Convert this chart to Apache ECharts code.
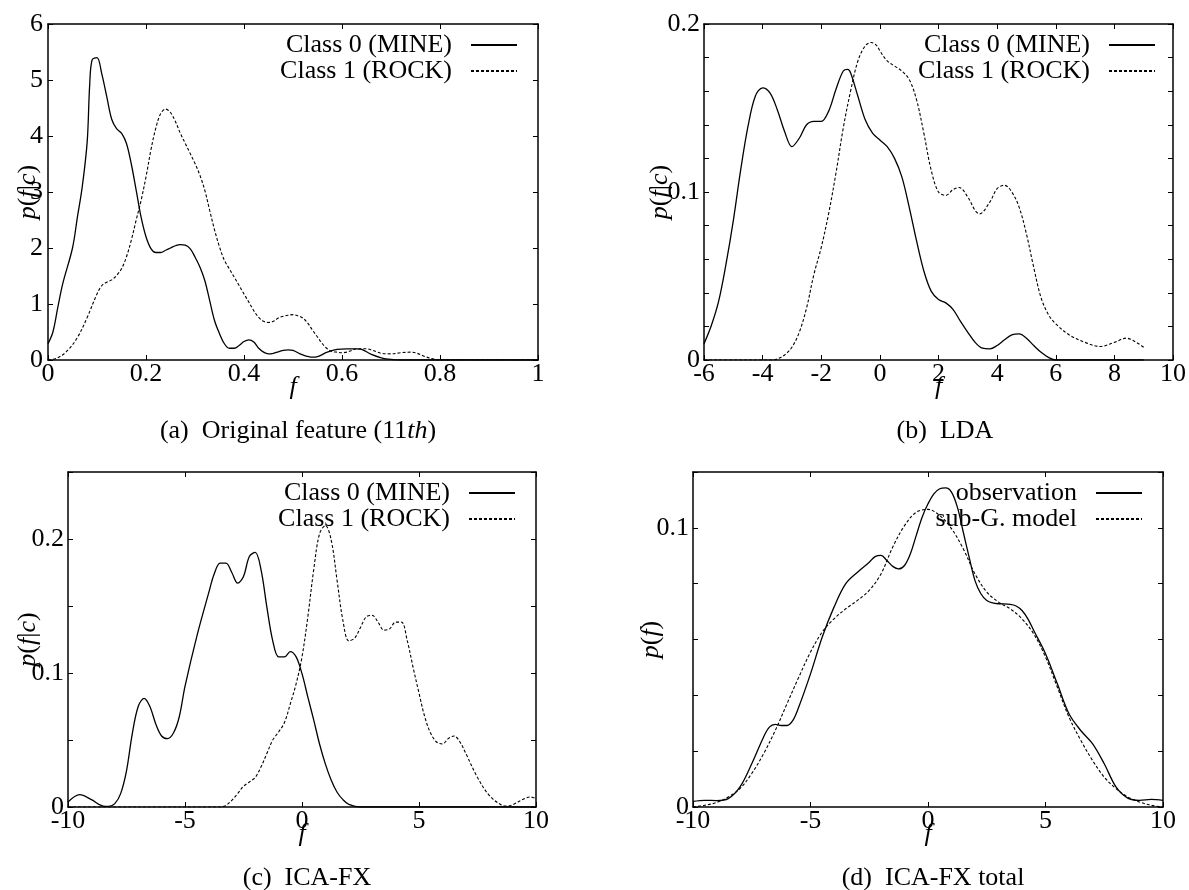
<!DOCTYPE html>
<html>
<head>
<meta charset="utf-8">
<script src="https://cdn.jsdelivr.net/npm/echarts@6/dist/echarts.min.js"></script>
<style>html,body{margin:0;padding:0;background:#fff}#c{width:1189px;height:890px}</style>
</head>
<body>
<div id="c"></div>
<script>
// ---------- Panel (a): Original feature (11th) ----------
const A_MINE_X = [0,0.01,0.02,0.03,0.05,0.06,0.07,0.08,0.085,0.09,0.1,0.11,0.12,0.13,0.14,0.15,0.16,0.17,0.18,0.19,0.2,0.21,0.22,0.23,0.24,0.25,0.26,0.27,0.28,0.29,0.3,0.31,0.32,0.33,0.34,0.35,0.36,0.37,0.38,0.39,0.4,0.41,0.42,0.43,0.44,0.45,0.46,0.48,0.49,0.5,0.52,0.54,0.55,0.57,0.59,0.61,0.63,0.64,0.66,0.68,0.7,0.72,0.8,0.9,1.0];
const A_MINE_Y = [0.29,0.5,0.94,1.36,2.0,2.55,3.1,3.9,4.9,5.36,5.4,5.1,4.7,4.3,4.13,4.05,3.87,3.5,3.03,2.55,2.2,1.99,1.92,1.92,1.96,2.0,2.04,2.06,2.05,1.99,1.84,1.66,1.42,1.06,0.7,0.47,0.29,0.21,0.21,0.26,0.33,0.36,0.32,0.21,0.14,0.11,0.12,0.17,0.18,0.17,0.09,0.05,0.06,0.14,0.19,0.2,0.2,0.19,0.1,0.04,0.01,0,0,0,0];
const A_ROCK_X = [0,0.02,0.04,0.06,0.08,0.1,0.11,0.12,0.13,0.14,0.15,0.16,0.17,0.18,0.19,0.2,0.21,0.22,0.23,0.24,0.25,0.26,0.27,0.28,0.29,0.3,0.31,0.32,0.33,0.34,0.35,0.36,0.37,0.38,0.39,0.4,0.41,0.42,0.43,0.44,0.45,0.46,0.47,0.48,0.49,0.5,0.51,0.52,0.53,0.54,0.55,0.56,0.57,0.58,0.59,0.6,0.61,0.62,0.63,0.64,0.65,0.66,0.67,0.68,0.7,0.72,0.74,0.75,0.77,0.79,0.8,0.9,1.0];
const A_ROCK_Y = [0,0.04,0.17,0.4,0.76,1.18,1.33,1.39,1.43,1.51,1.63,1.84,2.14,2.5,2.85,3.27,3.75,4.14,4.4,4.48,4.42,4.26,4.05,3.87,3.69,3.51,3.3,3.03,2.67,2.32,2.02,1.78,1.63,1.48,1.33,1.18,1.03,0.88,0.76,0.69,0.67,0.69,0.75,0.78,0.8,0.81,0.79,0.75,0.66,0.53,0.41,0.29,0.2,0.15,0.14,0.13,0.14,0.17,0.2,0.2,0.2,0.18,0.15,0.12,0.11,0.13,0.14,0.13,0.06,0.01,0,0,0];

// ---------- Panel (b): LDA ----------
const B_MINE_X = [-6,-5.75,-5.5,-5.25,-5,-4.75,-4.5,-4.25,-4,-3.75,-3.5,-3.25,-3,-2.75,-2.5,-2.25,-2,-1.75,-1.5,-1.25,-1.1,-1,-0.75,-0.5,-0.25,0,0.25,0.5,0.75,1,1.25,1.5,1.75,2,2.25,2.5,2.75,3,3.25,3.5,3.75,4,4.25,4.5,4.75,5,5.25,5.5,5.75,6,7,8,9];
const B_MINE_Y = [0.0096,0.0205,0.035,0.057,0.083,0.113,0.139,0.157,0.162,0.159,0.149,0.136,0.127,0.132,0.14,0.142,0.142,0.148,0.161,0.172,0.173,0.171,0.157,0.143,0.135,0.131,0.127,0.12,0.109,0.091,0.071,0.053,0.041,0.036,0.034,0.030,0.023,0.0165,0.0105,0.007,0.0066,0.0086,0.012,0.015,0.0155,0.013,0.0086,0.0046,0.0016,0,0,0,0];
const B_ROCK_X = [-6,-5,-4,-3.7,-3.5,-3.25,-3,-2.75,-2.5,-2.25,-2,-1.75,-1.5,-1.25,-1,-0.75,-0.5,-0.3,-0.1,0,0.25,0.5,0.75,1,1.25,1.5,1.75,2,2.25,2.5,2.7,3,3.25,3.4,3.75,4,4.25,4.5,4.75,5,5.25,5.5,5.75,6,6.5,7,7.5,8,8.4,8.75,9];
const B_ROCK_Y = [0,0,0,0,0.0006,0.003,0.0076,0.0165,0.031,0.051,0.067,0.087,0.111,0.138,0.16,0.178,0.187,0.189,0.187,0.184,0.178,0.175,0.172,0.167,0.155,0.135,0.113,0.1,0.098,0.1015,0.1027,0.097,0.089,0.087,0.094,0.102,0.104,0.1,0.091,0.075,0.055,0.037,0.027,0.0215,0.0145,0.0105,0.008,0.0105,0.013,0.0105,0.0076];

// ---------- Panel (c): ICA-FX ----------
const C_MINE_X = [-10,-9.5,-9,-8.5,-8.25,-8,-7.75,-7.5,-7.25,-7,-6.75,-6.5,-6.25,-6,-5.75,-5.5,-5.25,-5,-4.5,-4,-3.75,-3.5,-3.25,-3,-2.75,-2.5,-2.25,-2,-1.75,-1.5,-1.25,-1,-0.75,-0.5,-0.25,0,0.25,0.5,0.75,1,1.25,1.5,1.75,2,2.5,4,6,8,10];
const C_MINE_Y = [0.0037,0.0092,0.0055,0.0007,0.0005,0.0025,0.01,0.027,0.055,0.075,0.081,0.075,0.062,0.053,0.051,0.055,0.067,0.09,0.127,0.159,0.174,0.182,0.182,0.175,0.167,0.172,0.187,0.19,0.177,0.149,0.124,0.112,0.112,0.116,0.112,0.0995,0.082,0.065,0.047,0.032,0.02,0.011,0.0055,0.002,0,0,0,0,0];
const C_ROCK_X = [-10,-8,-6,-4,-3.5,-3.25,-3,-2.75,-2.5,-2.25,-2,-1.75,-1.5,-1.25,-1,-0.75,-0.5,-0.25,0,0.25,0.5,0.75,1,1.25,1.5,1.75,2,2.25,2.5,2.75,3,3.25,3.5,3.75,4,4.25,4.5,4.75,5,5.25,5.5,5.75,6,6.25,6.5,6.75,7,7.5,8,8.5,8.75,9,9.5,9.75,10];
const C_ROCK_Y = [0,0,0,0,0,0.0012,0.005,0.01,0.0155,0.0187,0.022,0.03,0.04,0.05,0.056,0.063,0.077,0.092,0.112,0.142,0.177,0.204,0.21,0.199,0.169,0.139,0.124,0.126,0.134,0.142,0.143,0.138,0.132,0.133,0.138,0.138,0.124,0.104,0.085,0.067,0.055,0.0485,0.047,0.051,0.053,0.0485,0.04,0.022,0.0087,0.0017,0.0007,0.0017,0.0062,0.0075,0.0062];

// ---------- Panel (d): ICA-FX total ----------
const D_OBS_X = [-10,-9.5,-9,-8.5,-8,-7.5,-7,-6.75,-6.5,-6.25,-6,-5.75,-5.5,-5,-4.5,-4,-3.5,-3,-2.5,-2.25,-2,-1.75,-1.5,-1.25,-1,-0.75,-0.5,-0.25,0,0.25,0.5,0.75,1,1.25,1.5,1.75,2,2.25,2.5,2.75,3,3.5,3.75,4,4.25,4.5,5,5.5,6,6.5,7,7.5,8,8.5,9,9.5,10];
const D_OBS_Y = [0.002,0.0024,0.0023,0.003,0.0072,0.0155,0.025,0.0286,0.0296,0.0292,0.0292,0.031,0.0358,0.0477,0.0609,0.0716,0.08,0.0841,0.0877,0.0897,0.0901,0.0883,0.0862,0.0853,0.0865,0.0907,0.0973,0.1038,0.1086,0.1122,0.114,0.1143,0.1128,0.1074,0.0985,0.0895,0.0811,0.0764,0.074,0.0731,0.0728,0.0726,0.072,0.0704,0.0674,0.0632,0.0549,0.0442,0.0334,0.0274,0.0227,0.0155,0.0072,0.0032,0.0024,0.0027,0.0024];
const D_MODEL_X = [-10,-9.5,-9,-8.5,-8,-7.5,-7,-6.5,-6,-5.5,-5,-4.5,-4,-3.5,-3,-2.5,-2,-1.5,-1,-0.5,0,0.5,1,1.5,2,2.5,3,3.5,4,4.5,5,5.5,6,6.5,7,7.5,8,8.5,9,9.5,10];
const D_MODEL_Y = [0,0.0006,0.0016,0.0036,0.0066,0.012,0.019,0.0274,0.037,0.0465,0.0555,0.0627,0.0674,0.071,0.074,0.0776,0.0835,0.0931,0.1008,0.1056,0.1066,0.1044,0.0997,0.0925,0.0835,0.077,0.0734,0.071,0.0674,0.062,0.0537,0.043,0.0322,0.0239,0.0167,0.0107,0.0066,0.0036,0.0018,0.0006,0];

// ---------- labels ----------
const NAME_MINE = 'Class 0 (MINE)';
const NAME_ROCK = 'Class 1 (ROCK)';
const NAME_OBS = 'observation';
const NAME_MODEL = 'sub-G. model';
const CAPTIONS = ['{n|(a)  Original feature (11}{i|th}{n|)}', '{n|(b)  LDA}', '{n|(c)  ICA-FX}', '{n|(d)  ICA-FX total}'];
const Y_NAMES = ['{i|p}({i|f}|{i|c})', '{i|p}({i|f}|{i|c})', '{i|p}({i|f}|{i|c})', '{i|p}({i|f})'];
const X_NAME = '{i|f}';

const FONT = 'Liberation Serif';
const FS = 26;

const panels = [
  {grid:{left:48, top:24, width:490, height:336}, x:[0,1,0.2], y:[0,6,1], yLabels:null, yGap:7, yMargin:5,
   series:[[NAME_MINE, A_MINE_X, A_MINE_Y, 'solid'], [NAME_ROCK, A_ROCK_X, A_ROCK_Y, 'dash']]},
  {grid:{left:704, top:24, width:472, height:336}, x:[-6,10,2], y:[0,0.2,0.02], yLabels:[0,0.1,0.2], yGap:31, yMargin:4,
   series:[[NAME_MINE, B_MINE_X, B_MINE_Y, 'solid'], [NAME_ROCK, B_ROCK_X, B_ROCK_Y, 'dash']]},
  {grid:{left:68, top:472, width:468, height:335}, x:[-10,10,5], y:[0,0.25,0.05], yLabels:[0,0.1,0.2], yGap:27, yMargin:4,
   series:[[NAME_MINE, C_MINE_X, C_MINE_Y, 'solid'], [NAME_ROCK, C_ROCK_X, C_ROCK_Y, 'dash']]},
  {grid:{left:693, top:472, width:470, height:335}, x:[-10,10,5], y:[0,0.12,0.02], yLabels:[0,0.1], yGap:29, yMargin:4,
   series:[[NAME_OBS, D_OBS_X, D_OBS_Y, 'solid'], [NAME_MODEL, D_MODEL_X, D_MODEL_Y, 'dash']]}
];

const axisLine = {show:true, onZero:false, lineStyle:{color:'#000', width:1.5}};
const axisTick = {show:true, inside:true, length:5, lineStyle:{color:'#000', width:1}};
const richI = {i:{fontStyle:'italic', fontFamily:FONT, fontSize:FS, color:'#000'}};

const option = {
  backgroundColor:'#fff', animation:false,
  grid:[], xAxis:[], yAxis:[], series:[], legend:[], title:[]
};

panels.forEach((p, i) => {
  option.grid.push(p.grid);
  const g = p.grid;
  option.xAxis.push({type:'value', gridIndex:i, position:'bottom', min:p.x[0], max:p.x[1], interval:p.x[2],
    axisLine, axisTick, splitLine:{show:false},
    axisLabel:{color:'#000', fontFamily:FONT, fontSize:FS, margin:1, hideOverlap:false},
    name:X_NAME, nameLocation:'middle', nameGap:14, nameMoveOverlap:false,
    nameTextStyle:{color:'#000', fontFamily:FONT, fontSize:FS, rich:richI}});
  option.xAxis.push({type:'value', gridIndex:i, position:'top', min:p.x[0], max:p.x[1], interval:p.x[2],
    axisLine, axisTick, splitLine:{show:false}, axisLabel:{show:false}});
  const labs = p.yLabels;
  option.yAxis.push({type:'value', gridIndex:i, position:'left', min:p.y[0], max:p.y[1], interval:p.y[2],
    axisLine, axisTick, splitLine:{show:false},
    axisLabel:{color:'#000', fontFamily:FONT, fontSize:FS, margin:p.yMargin, hideOverlap:false,
      formatter: v => {
        if (!labs) return String(Math.round(v*1000)/1000);
        for (const l of labs) if (Math.abs(v - l) < 1e-9) return String(l);
        return '';
      }},
    name:Y_NAMES[i], nameLocation:'middle', nameGap:p.yGap, nameRotate:90, nameMoveOverlap:false,
    nameTextStyle:{color:'#000', fontFamily:FONT, fontSize:FS, rich:richI}});
  option.yAxis.push({type:'value', gridIndex:i, position:'right', min:p.y[0], max:p.y[1], interval:p.y[2],
    axisLine, axisTick, splitLine:{show:false}, axisLabel:{show:false}});

  p.series.forEach(s => {
    const data = s[1].map((x, k) => [x, s[2][k]]);
    option.series.push({type:'line', name:s[0], xAxisIndex:2*i, yAxisIndex:2*i, data,
      showSymbol:false, symbol:'none', smooth:0.35, clip:true,
      lineStyle: s[3] === 'solid' ? {color:'#000', width:1.3, type:'solid'} : {color:'#000', width:1.1, type:[3,2]},
      itemStyle:{color:'#000'}, z:3});
  });

  option.legend.push({orient:'vertical', align:'right', right:1189 - (g.left + g.width) + 15, top:g.top + 3,
    itemWidth:46, itemHeight:14, itemGap:0, selectedMode:false,
    itemStyle:{opacity:0},
    data:p.series.map(s => s[0]),
    textStyle:{color:'#000', fontFamily:FONT, fontSize:FS, lineHeight:25, padding:[0,14,0,0]}});

  option.title.push({text:CAPTIONS[i], left:g.left + g.width/2, textAlign:'center',
    top:g.top + g.height + 53,
    textStyle:{fontFamily:FONT, fontSize:FS, fontWeight:'normal', color:'#000',
      rich:{n:{fontFamily:FONT, fontSize:FS, color:'#000'}, i:{fontFamily:FONT, fontSize:FS, fontStyle:'italic', color:'#000'}}}});
});

const chart = echarts.init(document.getElementById('c'), null, {renderer:'canvas'});
chart.setOption(option);
</script>
</body>
</html>
